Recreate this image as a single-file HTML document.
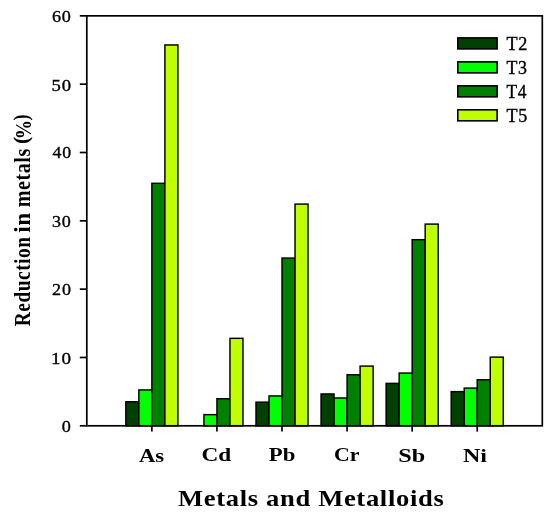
<!DOCTYPE html>
<html><head><meta charset="utf-8"><style>
html,body{margin:0;padding:0;background:#fff;overflow:hidden;}
svg{display:block;will-change:transform;}
text{font-family:"Liberation Serif",serif;fill:#000;}
.r{font-size:17px;stroke:#000;stroke-width:0.35px;}
.b{font-weight:bold;font-size:18.7px;}
.bt{font-weight:bold;font-size:24px;}
.by{font-weight:bold;font-size:22px;}
</style></head><body>
<svg width="550" height="516" viewBox="0 0 550 516">
<rect x="125.84" y="401.75" width="13.01" height="24.05" fill="#004000" stroke="#000" stroke-width="1.45"/>
<rect x="138.86" y="389.93" width="13.01" height="35.87" fill="#00FF00" stroke="#000" stroke-width="1.45"/>
<rect x="151.87" y="183.31" width="13.01" height="242.49" fill="#008000" stroke="#000" stroke-width="1.45"/>
<rect x="164.89" y="44.96" width="13.01" height="380.84" fill="#C0FF00" stroke="#000" stroke-width="1.45"/>
<rect x="203.93" y="414.66" width="13.01" height="11.14" fill="#00FF00" stroke="#000" stroke-width="1.45"/>
<rect x="216.94" y="398.74" width="13.01" height="27.06" fill="#008000" stroke="#000" stroke-width="1.45"/>
<rect x="229.96" y="338.34" width="13.01" height="87.46" fill="#C0FF00" stroke="#000" stroke-width="1.45"/>
<rect x="255.99" y="402.16" width="13.01" height="23.64" fill="#004000" stroke="#000" stroke-width="1.45"/>
<rect x="269.00" y="395.94" width="13.01" height="29.86" fill="#00FF00" stroke="#000" stroke-width="1.45"/>
<rect x="282.01" y="258.06" width="13.01" height="167.74" fill="#008000" stroke="#000" stroke-width="1.45"/>
<rect x="295.03" y="204.09" width="13.01" height="221.71" fill="#C0FF00" stroke="#000" stroke-width="1.45"/>
<rect x="321.06" y="393.96" width="13.01" height="31.84" fill="#004000" stroke="#000" stroke-width="1.45"/>
<rect x="334.07" y="397.99" width="13.01" height="27.81" fill="#00FF00" stroke="#000" stroke-width="1.45"/>
<rect x="347.09" y="374.76" width="13.01" height="51.04" fill="#008000" stroke="#000" stroke-width="1.45"/>
<rect x="360.10" y="366.08" width="13.01" height="59.72" fill="#C0FF00" stroke="#000" stroke-width="1.45"/>
<rect x="386.13" y="383.37" width="13.01" height="42.43" fill="#004000" stroke="#000" stroke-width="1.45"/>
<rect x="399.14" y="373.05" width="13.01" height="52.75" fill="#00FF00" stroke="#000" stroke-width="1.45"/>
<rect x="412.16" y="239.68" width="13.01" height="186.12" fill="#008000" stroke="#000" stroke-width="1.45"/>
<rect x="425.17" y="224.10" width="13.01" height="201.70" fill="#C0FF00" stroke="#000" stroke-width="1.45"/>
<rect x="451.20" y="391.64" width="13.01" height="34.16" fill="#004000" stroke="#000" stroke-width="1.45"/>
<rect x="464.21" y="388.08" width="13.01" height="37.72" fill="#00FF00" stroke="#000" stroke-width="1.45"/>
<rect x="477.23" y="379.75" width="13.01" height="46.05" fill="#008000" stroke="#000" stroke-width="1.45"/>
<rect x="490.24" y="357.13" width="13.01" height="68.67" fill="#C0FF00" stroke="#000" stroke-width="1.45"/>
<rect x="86.8" y="15.85" width="455.50" height="409.95" fill="none" stroke="#000" stroke-width="1.7"/>
<line x1="79.8" y1="425.80" x2="86.8" y2="425.80" stroke="#000" stroke-width="1.7"/>
<text transform="translate(61.835,432.096) scale(1.0678,1.0000)" class="r" letter-spacing="0.8">0</text>
<line x1="79.8" y1="357.48" x2="86.8" y2="357.48" stroke="#000" stroke-width="1.7"/>
<text transform="translate(50.961,363.635) scale(1.1213,1.0000)" class="r" letter-spacing="0.8">10</text>
<line x1="79.8" y1="289.15" x2="86.8" y2="289.15" stroke="#000" stroke-width="1.7"/>
<text transform="translate(52.037,295.311) scale(1.0608,1.0000)" class="r" letter-spacing="0.8">20</text>
<line x1="79.8" y1="220.83" x2="86.8" y2="220.83" stroke="#000" stroke-width="1.7"/>
<text transform="translate(51.981,226.852) scale(1.0641,1.0000)" class="r" letter-spacing="0.8">30</text>
<line x1="79.8" y1="152.50" x2="86.8" y2="152.50" stroke="#000" stroke-width="1.7"/>
<text transform="translate(52.553,158.341) scale(1.0469,1.0000)" class="r" letter-spacing="0.8">40</text>
<line x1="79.8" y1="84.18" x2="86.8" y2="84.18" stroke="#000" stroke-width="1.7"/>
<text transform="translate(51.512,90.724) scale(1.0976,1.0000)" class="r" letter-spacing="0.8">50</text>
<line x1="79.8" y1="15.85" x2="86.8" y2="15.85" stroke="#000" stroke-width="1.7"/>
<text transform="translate(51.875,21.971) scale(1.0676,1.0000)" class="r" letter-spacing="0.8">60</text>
<line x1="151.87" y1="425.8" x2="151.87" y2="431.6" stroke="#000" stroke-width="1.7"/>
<text transform="translate(138.882,461.825) scale(1.2159,1.0000)" class="b">As</text>
<line x1="216.94" y1="425.8" x2="216.94" y2="431.6" stroke="#000" stroke-width="1.7"/>
<text transform="translate(201.390,461.299) scale(1.2451,1.0000)" class="b">Cd</text>
<line x1="282.01" y1="425.8" x2="282.01" y2="431.6" stroke="#000" stroke-width="1.7"/>
<text transform="translate(268.855,461.475) scale(1.2153,1.0000)" class="b">Pb</text>
<line x1="347.09" y1="425.8" x2="347.09" y2="431.6" stroke="#000" stroke-width="1.7"/>
<text transform="translate(333.883,461.461) scale(1.1682,1.0000)" class="b">Cr</text>
<line x1="412.16" y1="425.8" x2="412.16" y2="431.6" stroke="#000" stroke-width="1.7"/>
<text transform="translate(398.340,461.771) scale(1.2941,1.0000)" class="b">Sb</text>
<line x1="477.23" y1="425.8" x2="477.23" y2="431.6" stroke="#000" stroke-width="1.7"/>
<text transform="translate(462.922,461.825) scale(1.2874,1.0000)" class="b">Ni</text>
<rect x="457.8" y="37.90" width="39.3" height="11" fill="#004000" stroke="#000" stroke-width="1.6"/>
<text transform="translate(506.579,50.224) scale(1.0684,1.0460)" class="r" letter-spacing="0.5">T2</text>
<rect x="457.8" y="61.87" width="39.3" height="11" fill="#00FF00" stroke="#000" stroke-width="1.6"/>
<text transform="translate(506.572,73.982) scale(1.0513,1.0587)" class="r" letter-spacing="0.5">T3</text>
<rect x="457.8" y="85.84" width="39.3" height="11" fill="#008000" stroke="#000" stroke-width="1.6"/>
<text transform="translate(506.584,97.954) scale(1.0229,1.0474)" class="r" letter-spacing="0.5">T4</text>
<rect x="457.8" y="109.81" width="39.3" height="11" fill="#C0FF00" stroke="#000" stroke-width="1.6"/>
<text transform="translate(506.572,122.443) scale(1.0646,1.0591)" class="r" letter-spacing="0.5">T5</text>
<text transform="translate(177.979,506.250) scale(1.1080,1.0000)" class="bt" letter-spacing="0.6">Metals and Metalloids</text>
<text transform="translate(30.348,326.257) rotate(-90) scale(0.8815,1.0307)" class="by" letter-spacing="0.6">Reduction</text>
<text transform="translate(30.304,232.707) rotate(-90) scale(1.0475,1.0207)" class="by" letter-spacing="0.6">in</text>
<text transform="translate(30.304,207.302) rotate(-90) scale(0.9137,1.0207)" class="by" letter-spacing="0.6">metals</text>
<text transform="translate(28.163,144.006) rotate(-90) scale(0.9922,0.9867)" class="by" letter-spacing="0.6">(</text>
<text transform="translate(30.773,139.181) rotate(-90) scale(0.8830,1.0524)" class="by" letter-spacing="0.6">%</text>
<text transform="translate(28.104,120.520) rotate(-90) scale(0.8368,0.9777)" class="by" letter-spacing="0.6">)</text>
</svg>
</body></html>
